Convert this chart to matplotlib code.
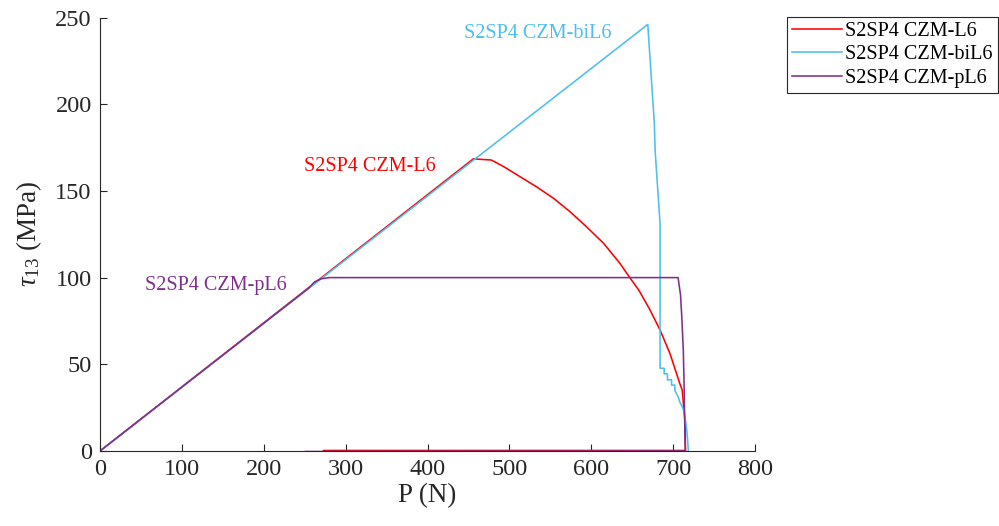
import matplotlib
matplotlib.use("Agg")
import matplotlib.pyplot as plt

plt.rcParams['font.family'] = ['Liberation Serif', 'DejaVu Serif']
plt.rcParams['mathtext.fontset'] = 'custom'
plt.rcParams['mathtext.rm'] = 'Liberation Serif'
plt.rcParams['mathtext.it'] = 'Liberation Serif:italic'

# S2SP4 CZM-L6
p_L6 = [0, 456, 478, 493, 513, 533, 554, 574, 594, 615, 635, 647, 658, 671,
        684, 696, 700, 708, 711, 714.5, 715, 715, 273]
t_L6 = [0, 168.5, 167.8, 164, 158.2, 152.4, 145.7, 138, 129.4, 119.8, 108.2,
        100, 92.8, 82, 69.8, 56.3, 50.6, 39, 35.2, 17, 0.5, 0.3, 0.3]

# S2SP4 CZM-biL6
p_biL6 = [0, 669, 677, 678, 684, 684, 689, 689, 693, 693, 698, 698, 702, 702,
          706, 708, 712, 714.5, 716.6, 717.7, 718.5]
t_biL6 = [0, 246, 189, 173, 131, 47.7, 47.7, 44.5, 44.5, 41, 41, 38, 38, 35,
          31.3, 28.4, 24.6, 19.8, 12, 6, 0]

# S2SP4 CZM-pL6
p_pL6 = [0, 255, 262, 270, 280, 706, 709, 710.5, 712.4, 713.3, 714.5, 715, 251]
t_pL6 = [0, 94, 97.5, 99.3, 100, 100, 90, 77.5, 58, 39, 5, 0, -0.3]

names = ['S2SP4 CZM-L6', 'S2SP4 CZM-biL6', 'S2SP4 CZM-pL6']
colores = ['#FF0000', '#4DBEEE', '#7E2F8E']

fig = plt.figure(figsize=(9.99, 5.26), dpi=100)
ax = fig.add_axes([0.1001, 0.1426, 0.6557, 0.8241])

ax.plot(p_L6, t_L6, color=colores[0], lw=1.15, label=names[0])
ax.plot(p_biL6, t_biL6, color=colores[1], lw=1.15, label=names[1])
ax.plot(p_pL6, t_pL6, color=colores[2], lw=1.15, label=names[2])

ax.text(535, 240.5, names[1], color=colores[1], fontsize=14.5, ha='center', va='center')
ax.text(330, 163.8, names[0], color=colores[0], fontsize=14.5, ha='center', va='center')
ax.text(141.7, 95.2, names[2], color=colores[2], fontsize=14.5, ha='center', va='center')

ax.set_xlim(0, 800)
ax.set_ylim(0, 250)
ax.set_xticks(range(0, 801, 100))
ax.set_yticks(range(0, 251, 50))
for s in ['top', 'right']:
    ax.spines[s].set_visible(False)
for s in ['left', 'bottom']:
    ax.spines[s].set_color('#262626')
    ax.spines[s].set_linewidth(0.8)
ax.tick_params(direction='in', length=5, width=0.8, color='#262626',
               labelsize=17.5, labelcolor='#262626', pad=6)
ax.set_xlabel('P (N)', fontsize=19.5, color='#262626', labelpad=2)
ax.set_ylabel(r'$\tau_{13}$ (MPa)', fontsize=19.5, color='#262626', labelpad=8)

leg = fig.legend(loc='upper left', bbox_to_anchor=(786.7 / 999, 1 - 16.7 / 526),
                 borderaxespad=0, fontsize=14.5, handlelength=2.5, handletextpad=0.15,
                 labelspacing=0.22, fancybox=False, framealpha=1, borderpad=0.25)
leg.get_frame().set_edgecolor('#262626')
leg.get_frame().set_linewidth(0.8)

fig.savefig('out.png', dpi=100)
